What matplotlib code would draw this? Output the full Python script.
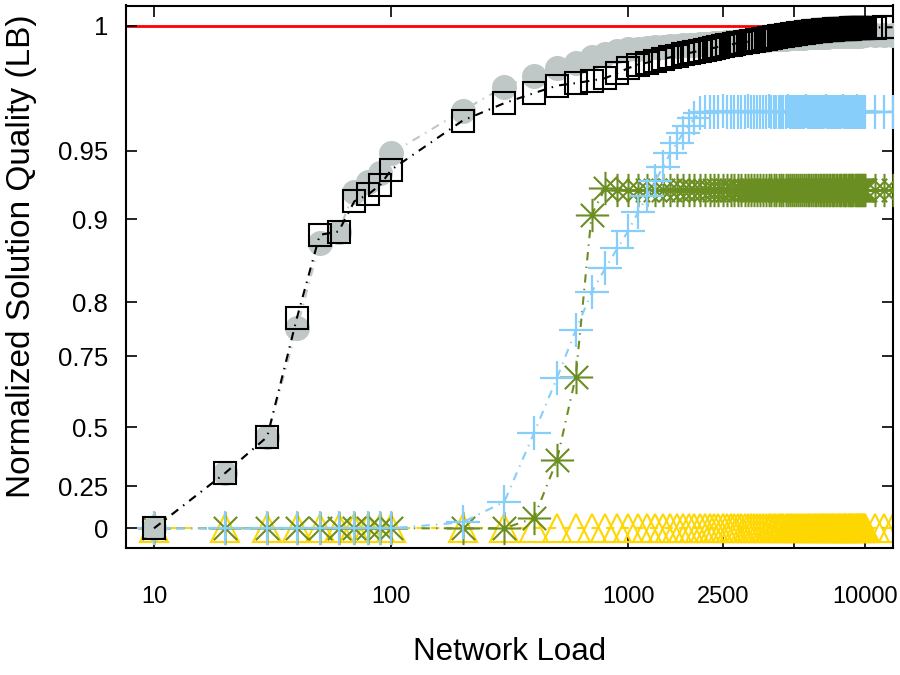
import numpy as np
import matplotlib
matplotlib.use("Agg")
import matplotlib.pyplot as plt
from matplotlib.path import Path

plt.rcParams['font.family'] = ['Liberation Sans', 'DejaVu Sans']

# ---------------- data ----------------
loads = [10, 20, 30, 40, 50, 60, 70, 80, 90,
         100, 200, 300, 400, 500, 600, 700, 800, 900, 1000,
         1100, 1200, 1300, 1400, 1500, 1600, 1700, 1800, 1900, 2000,
         2100, 2200, 2300, 2400, 2500, 2600, 2700, 2800, 2900, 3000,
         3100, 3200, 3300, 3400, 3500, 3600, 3700, 3800, 3900, 4000,
         4100, 4200, 4300, 4400, 4500, 4600, 4700, 4800, 4900, 5000,
         5100, 5200, 5300, 5400, 5500, 5600, 5700, 5800, 5900, 6000,
         6100, 6200, 6300, 6400, 6500, 6600, 6700, 6800, 6900, 7000,
         7100, 7200, 7300, 7400, 7500, 7600, 7700, 7800, 7900, 8000,
         8100, 8200, 8300, 8400, 8500, 8600, 8700, 8800, 8900, 9000,
         9100, 9200, 9300, 9400, 9500, 9600, 9700, 9800, 9900, 10000,
         11000, 12000, 13000]

gray_circles = [0.000, 0.306, 0.459, 0.776, 0.871, 0.885, 0.920, 0.927, 0.934,
                0.948, 0.966, 0.9756, 0.980, 0.983, 0.985, 0.9875, 0.9888, 0.9897, 0.9905,
                0.9908, 0.9911, 0.9913, 0.9915, 0.9917, 0.9919, 0.9921, 0.9923, 0.9924, 0.9926,
                0.9927, 0.9928, 0.9930, 0.9931, 0.9932, 0.9933, 0.9934, 0.9935, 0.9936, 0.9937,
                0.9938, 0.9939, 0.9940, 0.9941, 0.9942, 0.9942, 0.9943, 0.9944, 0.9945, 0.9945,
                0.9946, 0.9946, 0.9947, 0.9947, 0.9948, 0.9948, 0.9949, 0.9949, 0.9950, 0.9950,
                0.9951, 0.9951, 0.9952, 0.9952, 0.9952, 0.9953, 0.9953, 0.9953, 0.9954, 0.9954,
                0.9954, 0.9955, 0.9955, 0.9955, 0.9955, 0.9956, 0.9956, 0.9956, 0.9956, 0.9957,
                0.9957, 0.9957, 0.9957, 0.9957, 0.9958, 0.9958, 0.9958, 0.9958, 0.9958, 0.9958,
                0.9959, 0.9959, 0.9959, 0.9959, 0.9959, 0.9959, 0.9959, 0.9960, 0.9960, 0.9960,
                0.9960, 0.9960, 0.9960, 0.9960, 0.9960, 0.9961, 0.9961, 0.9961, 0.9961, 0.9961,
                0.9961, 0.9962, 0.9962]

black_squares = [0.000, 0.306, 0.459, 0.785, 0.881, 0.885, 0.913, 0.918, 0.925,
                 0.936, 0.962, 0.969, 0.973, 0.976, 0.977, 0.978, 0.979, 0.981, 0.983,
                 0.9844, 0.9852, 0.9860, 0.9867, 0.9873, 0.9879, 0.9885, 0.9890, 0.9895, 0.9899,
                 0.9903, 0.9907, 0.9911, 0.9915, 0.9918, 0.9921, 0.9924, 0.9927, 0.9930, 0.9932,
                 0.9934, 0.9936, 0.9938, 0.9940, 0.9942, 0.9944, 0.9946, 0.9948, 0.9950, 0.9952,
                 0.9954, 0.9956, 0.9957, 0.9959, 0.9960, 0.9962, 0.9963, 0.9964, 0.9966, 0.9967,
                 0.9968, 0.9969, 0.9970, 0.9971, 0.9972, 0.9973, 0.9974, 0.9975, 0.9976, 0.9977,
                 0.9978, 0.9978, 0.9979, 0.9980, 0.9980, 0.9981, 0.9981, 0.9982, 0.9982, 0.9983,
                 0.9983, 0.9984, 0.9984, 0.9985, 0.9985, 0.9985, 0.9986, 0.9986, 0.9986, 0.9987,
                 0.9987, 0.9987, 0.9988, 0.9988, 0.9988, 0.9988, 0.9989, 0.9989, 0.9989, 0.9989,
                 0.9990, 0.9990, 0.9990, 0.9990, 0.9991, 0.9991, 0.9991, 0.9991, 0.9992, 0.9992,
                 0.9992, 0.9993, 0.9993]

blue_plus = [0.0, 0.0, 0.0, 0.0, 0.0, 0.0, 0.0, 0.0, 0.0,
             0.0, 0.035, 0.157, 0.475, 0.6725, 0.774, 0.812, 0.841, 0.865, 0.886,
             0.905, 0.917, 0.928, 0.938, 0.948, 0.953, 0.957, 0.960, 0.963, 0.965,
             0.9656, 0.9656, 0.9655, 0.9656, 0.9657, 0.9656, 0.9656, 0.9655, 0.9656, 0.9656,
             0.9656, 0.9657, 0.9656, 0.9656, 0.9655, 0.9656, 0.9656, 0.9656, 0.9657, 0.9656,
             0.9656, 0.9656, 0.9655, 0.9656, 0.9656, 0.9656, 0.9657, 0.9656, 0.9656, 0.9656,
             0.9656, 0.9655, 0.9656, 0.9656, 0.9656, 0.9657, 0.9656, 0.9656, 0.9656, 0.9656,
             0.9656, 0.9656, 0.9655, 0.9656, 0.9656, 0.9656, 0.9656, 0.9657, 0.9656, 0.9656,
             0.9656, 0.9656, 0.9656, 0.9655, 0.9656, 0.9656, 0.9656, 0.9656, 0.9656, 0.9657,
             0.9656, 0.9656, 0.9656, 0.9656, 0.9655, 0.9656, 0.9656, 0.9656, 0.9656, 0.9656,
             0.9656, 0.9657, 0.9656, 0.9656, 0.9656, 0.9655, 0.9656, 0.9656, 0.9656, 0.9656,
             0.9656, 0.9656, 0.9656]

olive_star = [0.0, 0.0, 0.0, 0.0, 0.0, 0.0, 0.0, 0.0, 0.0,
              0.0, 0.0, 0.0, 0.060, 0.360, 0.677, 0.903, 0.9228, 0.9213, 0.9212,
              0.9213, 0.9212, 0.9213, 0.9213, 0.9212, 0.9213, 0.9213, 0.9212, 0.9213, 0.9213,
              0.9212, 0.9213, 0.9213, 0.9213, 0.9212, 0.9213, 0.9213, 0.9213, 0.9212, 0.9213,
              0.9213, 0.9213, 0.9212, 0.9213, 0.9213, 0.9213, 0.9213, 0.9212, 0.9213, 0.9213,
              0.9213, 0.9212, 0.9213, 0.9213, 0.9213, 0.9213, 0.9212, 0.9213, 0.9213, 0.9213,
              0.9213, 0.9213, 0.9212, 0.9213, 0.9213, 0.9213, 0.9213, 0.9213, 0.9212, 0.9213,
              0.9213, 0.9213, 0.9213, 0.9212, 0.9213, 0.9213, 0.9213, 0.9213, 0.9213, 0.9212,
              0.9213, 0.9213, 0.9213, 0.9213, 0.9212, 0.9213, 0.9213, 0.9213, 0.9213, 0.9213,
              0.9212, 0.9213, 0.9213, 0.9213, 0.9213, 0.9213, 0.9212, 0.9213, 0.9213, 0.9213,
              0.9213, 0.9213, 0.9212, 0.9213, 0.9213, 0.9213, 0.9213, 0.9213, 0.9212, 0.9213,
              0.9213, 0.9213, 0.9213]

gold_tri = [0.0, 0.0, 0.0, 0.0, 0.0, 0.0, 0.0, 0.0, 0.0,
            0.0, 0.0, 0.0, 0.0, 0.0, 0.0, 0.0, 0.0, 0.0, 0.0,
            0.0, 0.0, 0.0, 0.0, 0.0, 0.0, 0.0, 0.0, 0.0, 0.0,
            0.0, 0.0, 0.0, 0.0, 0.0, 0.0, 0.0, 0.0, 0.0, 0.0,
            0.0, 0.0, 0.0, 0.0, 0.0, 0.0, 0.0, 0.0, 0.0, 0.0,
            0.0, 0.0, 0.0, 0.0, 0.0, 0.0, 0.0, 0.0, 0.0, 0.0,
            0.0, 0.0, 0.0, 0.0, 0.0, 0.0, 0.0, 0.0, 0.0, 0.0,
            0.0, 0.0, 0.0, 0.0, 0.0, 0.0, 0.0, 0.0, 0.0, 0.0,
            0.0, 0.0, 0.0, 0.0, 0.0, 0.0, 0.0, 0.0, 0.0, 0.0,
            0.0, 0.0, 0.0, 0.0, 0.0, 0.0, 0.0, 0.0, 0.0, 0.0,
            0.0, 0.0, 0.0, 0.0, 0.0, 0.0, 0.0, 0.0, 0.0, 0.0,
            0.0, 0.0, 0.0]

optimum = 1.0

y_ticks = [0, 0.25, 0.5, 0.75, 0.8, 0.9, 0.95, 1]
y_ticklabels = ["0", "0.25", "0.5", "0.75", "0.8", "0.9", "0.95", "1"]
x_ticks = [10, 100, 1000, 2500, 5000, 10000]
x_ticklabels = ["10", "100", "1000", "2500", "", "10000"]

# ------------- non-linear y scale (piecewise through the tick marks) -------------
scale_vals = [-1.0, 0.0, 0.25, 0.5, 0.75, 0.8, 0.9, 0.95, 1.0, 2.0]
scale_pos = [-169.2, 0.0, 42.3, 101.0, 172.3, 226.0, 309.3, 377.6, 502.8, 3006.8]


def fwd(v):
    return np.interp(np.asarray(v, dtype=float), scale_vals, scale_pos)


def inv(p):
    return np.interp(np.asarray(p, dtype=float), scale_pos, scale_vals)


# ------------- figure -------------
fig = plt.figure(figsize=(9, 6.75), dpi=100)
ax = fig.add_axes([126 / 900, 1 - 548.3 / 675, (893.3 - 126) / 900, (548.3 - 5.5) / 675])

ax.set_xscale('log')
ax.set_yscale('function', functions=(fwd, inv))

a = 0.70
asterisk = Path([(-1, 0), (1, 0), (0, -1), (0, 1), (-a, -a), (a, a), (-a, a), (a, -a)],
                [Path.MOVETO, Path.LINETO] * 4)

ax.axhline(optimum, color='#FF0000', lw=2.0, zorder=1)

ax.plot(loads, gold_tri, color='#FFD700', lw=1.5, ls=(0, (4, 3)),
        marker='^', ms=20, mfc='none', mec='#FFD700', mew=1.5, zorder=2)
ax.plot(loads, olive_star, color='#6B8E23', lw=1.5, ls=(0, (4, 3, 0.7, 3)),
        marker=asterisk, ms=24, mfc='none', mec='#6B8E23', mew=1.5, zorder=3)
ax.plot(loads, blue_plus, color='#87CEFA', lw=1.5, ls=(0, (4, 3, 0.7, 3)),
        marker='+', ms=24, mec='#87CEFA', mew=1.6, zorder=4)
ax.plot(loads, gray_circles, color='#BFC7C7', lw=1.5, ls=(0, (4, 3, 0.7, 3)),
        marker='o', ms=18, mfc='#BFC7C7', mec='none', zorder=5)
ax.plot(loads, black_squares, color='black', lw=1.5, ls=(0, (4, 3, 0.7, 3)),
        marker='s', ms=16.5, mfc='none', mec='black', mew=1.5, zorder=6)

ax.set_xlim(7.62, 13100)
ax.set_ylim(-0.1182, 1.008)

ax.set_xticks(x_ticks)
ax.set_xticklabels(x_ticklabels)
ax.xaxis.set_minor_locator(matplotlib.ticker.NullLocator())
ax.set_yticks(y_ticks)
ax.set_yticklabels(y_ticklabels)
ax.yaxis.set_minor_locator(matplotlib.ticker.NullLocator())

ax.tick_params(axis='both', which='major', direction='in', length=8, width=1.2,
               top=True, right=True, colors='black')
ax.tick_params(axis='x', pad=27, labelsize=17)
ax.tick_params(axis='y', pad=13, labelsize=18.5)

for s in ax.spines.values():
    s.set_linewidth(1.5)

ax.set_xlabel("Network Load", fontsize=22.5)
ax.xaxis.set_label_coords(0.5, (548.3 - 652) / 543)
ax.xaxis.label.set_va('center')
ax.set_ylabel("Normalized Solution Quality (LB)", fontsize=24)
ax.yaxis.set_label_coords((22 - 126) / 767, (548.3 - 256) / 543)
ax.yaxis.label.set_va('center')

fig.savefig("out.png", dpi=100)
